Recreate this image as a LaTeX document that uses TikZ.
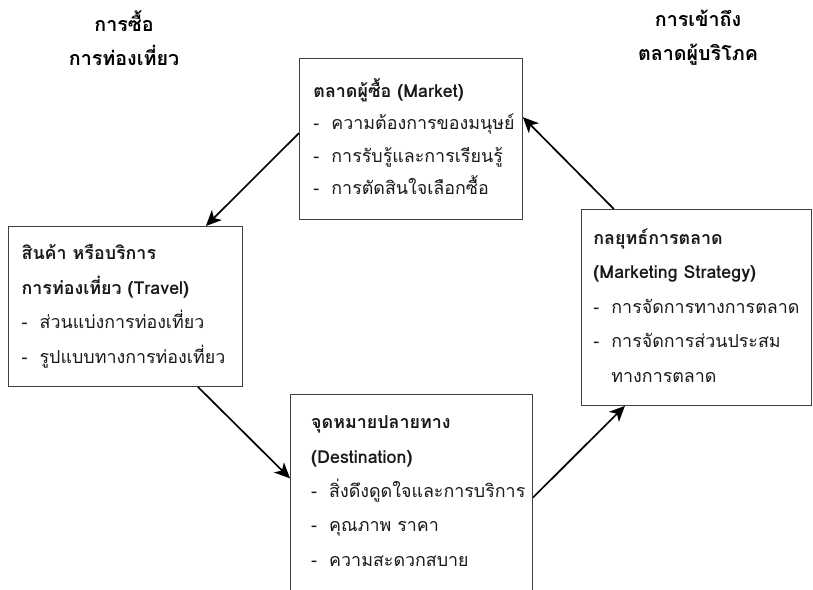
\documentclass[tikz,border=0pt]{standalone}
\usepackage{fontspec}
\setmainfont[Script=Thai]{Loma}
\usetikzlibrary{arrows.meta}

\newcommand{\itm}{\makebox[0.45cm][l]{-}}

\begin{document}
\begin{tikzpicture}[x=0.025cm,y=-0.025cm,>={Stealth[length=11pt,width=10pt,inset=3pt]}]

        \tikzstyle{panel}=[draw=black!75,line width=0.6pt,shape=rectangle,anchor=north west,align=left,text=black!90,font=\fontsize{12.7}{24.5}\selectfont]
        \tikzstyle{heading}=[align=center,font=\fontsize{14}{24}\selectfont\bfseries]
        \tikzstyle{link}=[line width=1.2pt,black]

        \useasboundingbox (0,0) rectangle (813,590);
        \clip (0,0) rectangle (813,590);

        \node[heading] (buy) at (124,38) {การซื้อ\\การท่องเที่ยว};
        \node[heading] (reach) at (698,38) {การเข้าถึง\\ตลาดผู้บริโภค};

        \node[panel,minimum width=5.575cm,minimum height=4.025cm,inner xsep=0.35cm,text width=4.875cm,
              font=\fontsize{12.7}{23}\selectfont] (market) at (299,58)
             {\textbf{ตลาดผู้ซื้อ (Market)}\\
              \itm ความต้องการของมนุษย์\\
              \itm การรับรู้และการเรียนรู้\\
              \itm การตัดสินใจเลือกซื้อ\rule[-0.12cm]{0pt}{0pt}};
        \node[panel,minimum width=5.85cm,minimum height=4cm,inner xsep=0.33cm,text width=5.19cm] (travel) at (8,226)
             {\textbf{สินค้า หรือบริการ}\\
              \textbf{การท่องเที่ยว (Travel)}\\
              \itm ส่วนแบ่งการท่องเที่ยว\\
              \itm รูปแบบทางการท่องเที่ยว};
        \node[panel,minimum width=5.75cm,minimum height=4.9cm,inner xsep=0.3cm,text width=5.15cm] (strategy) at (581,209)
             {\textbf{กลยุทธ์การตลาด}\\
              \textbf{(Marketing Strategy)}\\
              \itm การจัดการทางการตลาด\\
              \itm การจัดการส่วนประสม\\
              \hspace*{0.45cm}ทางการตลาด\rule[-0.1cm]{0pt}{0pt}};
        \node[panel,minimum width=6.05cm,minimum height=5.05cm,inner xsep=0.52cm,text width=5.01cm] (dest) at (290,394)
             {\textbf{จุดหมายปลายทาง}\\
              \textbf{(Destination)}\\
              \itm สิ่งดึงดูดใจและการบริการ\\
              \itm คุณภาพ ราคา\\
              \itm ความสะดวกสบาย\rule[-0.22cm]{0pt}{0pt}};

        \path [->,link] (market.177) edge (travel.45);
        \path [->,link] (travel.-48) edge (dest.172);
        \path [->,link] (dest.-1) edge (strategy.-126.7);
        \path [->,link] (strategy.130.3) edge (market.11.4);
      \end{tikzpicture}
\end{document}
